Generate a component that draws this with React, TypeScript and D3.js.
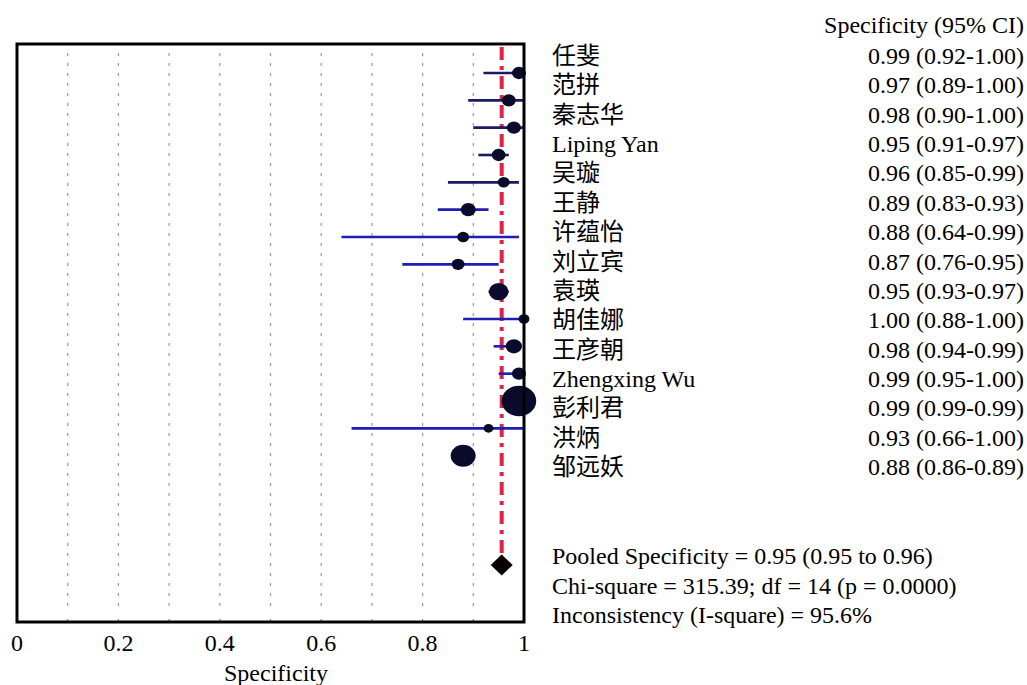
import React from "react";
import * as d3 from "d3";

const studies = ["任斐", "范拼", "秦志华", "Liping Yan", "吴璇", "王静", "许蕴怡", "刘立宾", "袁瑛", "胡佳娜", "王彦朝", "Zhengxing Wu", "彭利君", "洪炳", "邹远妖"];
const estimates = [0.99, 0.97, 0.98, 0.95, 0.96, 0.89, 0.88, 0.87, 0.95, 1.0, 0.98, 0.99, 0.99, 0.93, 0.88];
const lowerCI = [0.92, 0.89, 0.9, 0.91, 0.85, 0.83, 0.64, 0.76, 0.93, 0.88, 0.94, 0.95, 0.99, 0.66, 0.86];
const upperCI = [1.0, 1.0, 1.0, 0.97, 0.99, 0.93, 0.99, 0.95, 0.97, 1.0, 0.99, 1.0, 0.99, 1.0, 0.89];
const weights = [16.5, 16, 16.5, 16.5, 12, 19, 12, 14, 32, 10, 22, 16.5, 100, 8, 52];
const xTicks = [0, 0.2, 0.4, 0.6, 0.8, 1];
const gridValues = [0.1, 0.2, 0.3, 0.4, 0.5, 0.6, 0.7, 0.8, 0.9];
const pooledEstimate = 0.956;
const pooledLines = [
  "Pooled Specificity = 0.95 (0.95 to 0.96)",
  "Chi-square = 315.39; df = 14 (p = 0.0000)",
  "Inconsistency (I-square) = 95.6%",
];

const FONT = "'Liberation Serif', 'Times New Roman', 'Noto Sans CJK SC', serif";

export default function App() {
  const W = 1027, H = 685;
  const left = 17, right = 524, top = 44, bottom = 622;
  const x = d3.scaleLinear().domain([0, 1]).range([left, right]);
  const y = d3.scaleLinear().domain([0, 18]).range([73, 565]);
  const yText = d3.scaleLinear().domain([0, 14]).range([56, 467]);
  const r = d3.scaleSqrt().domain([0, d3.max(weights) as number]).range([0, 16]);
  const fmt = d3.format(".2f");
  const pooledRow = 18;
  const fs = 24;

  return (
    <svg width={W} height={H} style={{ position: "absolute", left: 0, top: 0, background: "#fff" }} fontFamily={FONT}>
      {gridValues.map((g) => (
        <g key={g}>
          <line x1={x(g)} x2={x(g)} y1={top + 9} y2={bottom - 9} stroke="#9a9a9a" strokeWidth={1.2} strokeDasharray="3,7" />
          <line x1={x(g)} x2={x(g)} y1={bottom - 3} y2={bottom} stroke="#888" strokeWidth={1.2} />
        </g>
      ))}
      <line x1={x(pooledEstimate)} x2={x(pooledEstimate)} y1={top + 3} y2={y(pooledRow) - 4} stroke="#dc2446" strokeWidth={4} strokeDasharray="13,6,4,6" />
      {studies.map((s, i) => (
        <line key={"ci" + i} x1={x(lowerCI[i])} x2={x(upperCI[i])} y1={y(i)} y2={y(i)} stroke={i < 5 ? "#1a1a66" : "#1e1eb0"} strokeWidth={2.6} />
      ))}
      {studies.map((s, i) => (
        <ellipse key={"pt" + i} cx={x(estimates[i])} cy={y(i)} rx={r(weights[i]) * 1.08} ry={r(weights[i]) * 0.95} fill="#0a0a2a" />
      ))}
      <path
        d={`M${x(pooledEstimate) - 11},${y(pooledRow)} L${x(pooledEstimate)},${y(pooledRow) - 10.5} L${x(pooledEstimate) + 11},${y(pooledRow)} L${x(pooledEstimate)},${y(pooledRow) + 10.5} Z`}
        fill="#0a0000"
      />
      <rect x={left} y={top} width={right - left} height={bottom - top} fill="none" stroke="#000" strokeWidth={3} />
      {xTicks.map((t) => (
        <text key={t} x={x(t)} y={651} fontSize={fs} textAnchor="middle" fill="#000">
          {String(t)}
        </text>
      ))}
      <text x={276} y={681} fontSize={fs} textAnchor="middle" fill="#000">Specificity</text>
      <text x={1024} y={33} fontSize={fs} textAnchor="end" fill="#000">Specificity (95% CI)</text>
      {studies.map((s, i) => (
        <g key={"t" + i}>
          <text x={552} y={yText(i) + 8} fontSize={fs} fill="#000">{s}</text>
          <text x={1024} y={yText(i) + 8} fontSize={fs} textAnchor="end" fill="#000">
            {`${fmt(estimates[i])} (${fmt(lowerCI[i])}-${fmt(upperCI[i])})`}
          </text>
        </g>
      ))}
      {pooledLines.map((l, i) => (
        <text key={"p" + i} x={552} y={556 + i * 29.5 + 8} fontSize={fs} fill="#000">{l}</text>
      ))}
    </svg>
  );
}
